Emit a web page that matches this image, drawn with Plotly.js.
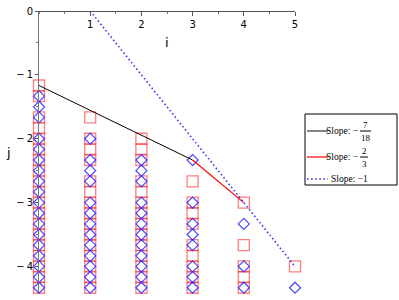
<!DOCTYPE html>
<html>
<head>
<meta charset="utf-8">
<script src="https://cdn.plot.ly/plotly-3.0.1.min.js"></script>
<style>html,body{margin:0;padding:0;background:#fff;}#chart{width:399px;height:300px;}</style>
</head>
<body>
<div id="chart"></div>
<script>
// Data: columns i = 0..5, point heights in sixths below zero (j = -k/6)
const columns = [0, 1, 2, 3, 4, 5];
const squareSixths = [
  [7, 8, 10, 11, 12, 13, 14, 15, 16, 17, 18, 19, 20, 21, 22, 23, 24, 25, 26],
  [10, 12, 13, 14, 16, 17, 18, 19, 20, 21, 22, 23, 24, 25, 26],
  [12, 13, 14, 16, 17, 18, 19, 20, 21, 22, 23, 24, 25, 26],
  [16, 18, 19, 20, 22, 23, 24, 25, 26],
  [18, 22, 24, 25, 26],
  [24]
];
const diamondSixths = [
  [8, 9, 10, 12, 13, 14, 15, 16, 17, 18, 19, 20, 21, 22, 23, 24, 25, 26],
  [12, 14, 15, 16, 18, 19, 20, 21, 22, 23, 24, 25, 26],
  [14, 15, 16, 18, 19, 20, 21, 22, 23, 24, 25, 26],
  [14, 18, 20, 21, 22, 24, 25, 26],
  [20, 24, 26],
  [26]
];
// Hull segments
const hullI = [0, 3, 4];
const hullJ = [-7/6, -7/3, -3];
const refI = [1, 5];
const refJ = [0, -4];
const slopeNum = ['7', '2'];
const slopeDen = ['18', '3'];
const xTicks = [1, 2, 3, 4, 5];
const yTicks = [0, -1, -2, -3, -4];
const yTickText = ['0', '\u2212\u20091', '\u2212\u20092', '\u2212\u20093', '\u2212\u20094'];

function flatten(cols) {
  const xs = [], ys = [];
  cols.forEach((ks, idx) => ks.forEach(k => { xs.push(columns[idx]); ys.push(-k / 6); }));
  return {xs, ys};
}
const sq = flatten(squareSixths);
const dm = flatten(diamondSixths);

const traces = [
  {x: sq.xs, y: sq.ys, mode: 'markers', type: 'scatter', cliponaxis: false,
   marker: {symbol: 'square-open', size: 11, color: 'rgba(255,40,40,0.6)', line: {width: 1.3}}},
  {x: dm.xs, y: dm.ys, mode: 'markers', type: 'scatter', cliponaxis: false,
   marker: {symbol: 'diamond-open', size: 8.5, color: 'rgba(40,40,255,0.85)', line: {width: 1.2}}},
  {x: hullI.slice(0, 2), y: hullJ.slice(0, 2), mode: 'lines', type: 'scatter', cliponaxis: false,
   line: {color: '#000', width: 1}},
  {x: hullI.slice(1, 3), y: hullJ.slice(1, 3), mode: 'lines', type: 'scatter', cliponaxis: false,
   line: {color: '#ff0000', width: 1.2}},
  {x: refI, y: refJ, mode: 'lines', type: 'scatter', cliponaxis: false,
   line: {color: '#3030ff', width: 1.6, dash: '1.5px,2.6px'}}
];

// pixel -> paper helpers
const L = 39, R = 295, T = 11, B = 292;
const px = v => (v - L) / (R - L);
const py = v => (B - v) / (B - T);

const serif = {family: 'Liberation Serif', size: 9.5, color: '#000'};
const fracFont = {family: 'Liberation Serif', size: 9, color: '#000'};
const shapes = [
  {type: 'rect', xref: 'paper', yref: 'paper', x0: px(305), x1: px(397), y0: py(185), y1: py(114),
   line: {color: '#000', width: 1}, fillcolor: '#fff', layer: 'below'},
  {type: 'line', xref: 'paper', yref: 'paper', x0: px(307), x1: px(328), y0: py(131), y1: py(131), line: {color: '#333', width: 1.2}},
  {type: 'line', xref: 'paper', yref: 'paper', x0: px(307), x1: px(328), y0: py(157), y1: py(157), line: {color: '#ff0000', width: 1.2}},
  {type: 'line', xref: 'paper', yref: 'paper', x0: px(307), x1: px(328), y0: py(179), y1: py(179), line: {color: '#3030ff', width: 1.6, dash: '1.5px,2.6px'}},
  {type: 'line', xref: 'paper', yref: 'paper', x0: px(360), x1: px(371), y0: py(131), y1: py(131), line: {color: '#000', width: 1}},
  {type: 'line', xref: 'paper', yref: 'paper', x0: px(360), x1: px(368), y0: py(157), y1: py(157), line: {color: '#000', width: 1}}
];
const ann = (x, y, text, anchor, font) => ({xref: 'paper', yref: 'paper', x: px(x), y: py(y), text, showarrow: false,
  xanchor: anchor || 'left', yanchor: 'middle', font: font || serif, borderpad: 0});
const annotations = [
  ann(359, 131, 'Slope: \u2212', 'right'),
  ann(365.5, 125, slopeNum[0], 'center', fracFont),
  ann(365.5, 138, slopeDen[0], 'center', fracFont),
  ann(359, 157, 'Slope: \u2212', 'right'),
  ann(364, 151, slopeNum[1], 'center', fracFont),
  ann(364, 163.5, slopeDen[1], 'center', fracFont),
  ann(330, 179, 'Slope: \u22121', 'left'),
  ann(167, 43, 'i', 'center', {family: 'DejaVu Sans', size: 13, color: '#000'}),
  ann(8, 153, 'j', 'center', {family: 'DejaVu Sans', size: 13, color: '#000'})
];

const tickFont = {family: 'DejaVu Sans', size: 10, color: '#000'};
const layout = {
  width: 399, height: 300,
  margin: {l: L, r: 399 - R, t: T, b: 300 - B, pad: 0},
  paper_bgcolor: '#fff', plot_bgcolor: '#fff',
  showlegend: false,
  xaxis: {range: [0, 5], anchor: 'free', position: 1, side: 'bottom',
    showgrid: false, zeroline: false, showline: true, linecolor: '#555', linewidth: 1,
    tickvals: xTicks, ticks: 'outside', ticklen: 4, tickcolor: '#555', tickfont: tickFont,
    minor: {dtick: 0.5, tick0: 0, ticks: 'outside', ticklen: 2, tickcolor: '#777'}},
  yaxis: {range: [-4.4, 0], showgrid: false, zeroline: false, showline: true, linecolor: '#777', linewidth: 1,
    tickvals: yTicks, ticktext: yTickText, ticks: 'outside', ticklen: 3, tickcolor: '#555', tickfont: tickFont,
    minor: {dtick: 0.5, tick0: 0, ticks: 'outside', ticklen: 2, tickcolor: '#777'}},
  shapes, annotations
};
Plotly.newPlot('chart', traces, layout, {staticPlot: true, displayModeBar: false});
</script>
</body>
</html>
